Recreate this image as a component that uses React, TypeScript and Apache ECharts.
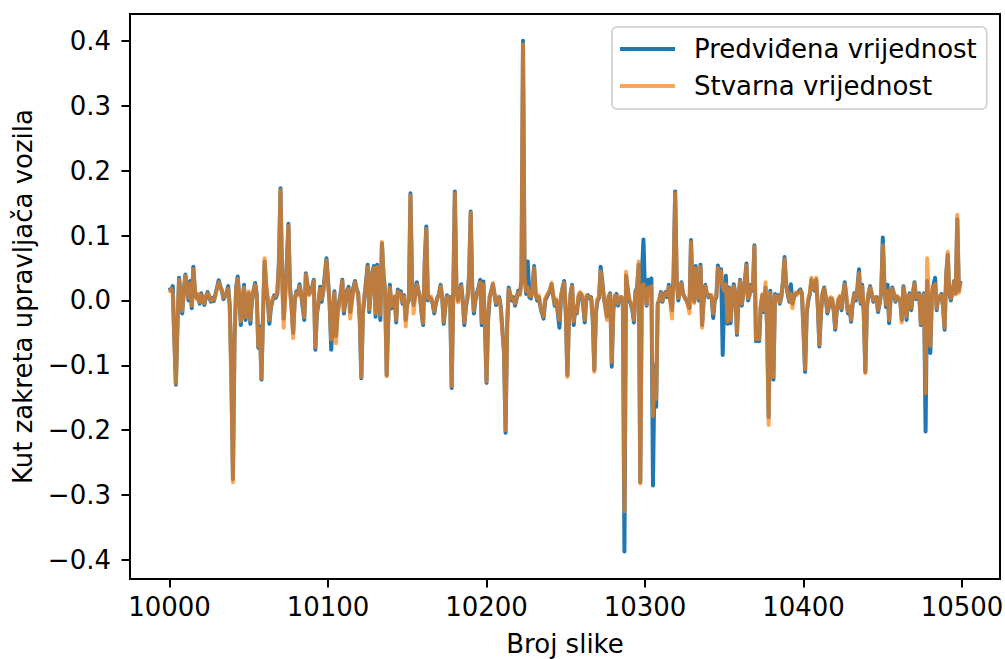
import React, { useEffect, useRef } from 'react';
import * as echarts from 'echarts';

const frameStart = 10000;
const xTicks = [10000, 10100, 10200, 10300, 10400, 10500];
const yTicks = [-0.4, -0.3, -0.2, -0.1, 0, 0.1, 0.2, 0.3, 0.4];
const seriesNames = ['Predviđena vrijednost', 'Stvarna vrijednost'];

// values in thousandths of the steering angle
const predicted = [
  20, 15, 22, -60, -130, -40, 35, 10, -20, 15,
  40, 20, 0, 30, -12, 52, 15, 4, 8, -5,
  11, 2, -7, 5, 13, 6, -2, 4, -1, 10,
  20, 31, 22, 15, 2, 6, 12, 22, -8, -120,
  -275, -60, 20, 37, 5, -38, 0, 24, -30, 5,
  11, -36, 0, 15, 27, 10, -73, -40, -122, -20,
  60, 20, 0, -36, -10, 0, 8, 4, 10, 60,
  173, 40, -28, 10, 60, 118, 20, -10, -50, 0,
  14, 10, 25, 10, -10, -30, 42, 25, 10, 14,
  20, 32, -76, -20, -5, 21, -2, 15, 40, 65,
  30, -5, -76, -30, 14, -55, -20, -2, 12, 32,
  -20, 0, 15, 21, -18, 0, 20, 30, 18, 11,
  -30, -120, -20, 6, 30, 55, -18, 15, 45, 53,
  -25, 55, 20, -30, 88, 40, 14, -115, -30, 24,
  -12, 0, 5, -34, 17, 8, 14, -5, 8, -30,
  -5, 0, 165, 30, -7, 8, 28, 15, 5, -20,
  -38, 60, 114, 0, 5, 3, -5, -20, -5, 4,
  10, 24, 5, -36, -10, 8, 3, 5, -135, 10,
  168, 20, 0, 15, 25, 0, -38, -10, 4, 40,
  137, 20, -20, 0, 12, 20, 32, -38, 29, -40,
  -127, -30, 5, 15, 25, 10, -7, 3, 5, -10,
  -45, -80, -204, -40, 20, 8, 0, 5, -8, 3,
  15, 10, 30, 400, 40, 10, 60, 5, 3, 20,
  53, 10, 0, 5, -10, -20, -28, 0, 5, 10,
  15, 25, 8, -8, 0, -20, -42, 5, 20, 30,
  -20, -115, -30, 10, 24, -38, -10, -20, 5, 11,
  8, -10, -34, 5, 8, 3, 5, -30, -107, -20,
  0, 4, 52, 30, 4, -10, -25, 5, 11, -102,
  -15, 5, 10, -8, 3, 5, 0, -387, 38, 20,
  0, -5, -15, -34, 14, 20, 55, -280, 40, 94,
  10, -8, 32, 20, 34, -285, -100, -164, -5, 0,
  13, -2, 8, 13, 5, 24, 0, -15, 40, 168,
  30, 0, 15, 28, 10, 5, 0, -5, -12, 93,
  10, -2, 53, 10, 0, 55, -38, 0, 24, 10,
  5, 8, 5, -27, 0, 5, 54, 30, 48, -84,
  10, 38, -36, 20, -35, 5, 25, 10, -53, 5,
  32, -8, 10, 30, 57, 0, 10, 24, 15, 85,
  -63, -40, -63, -10, 8, -18, 20, -40, -180, 15,
  -30, -122, 10, 5, 8, -5, 5, 30, 67, 25,
  10, -2, 25, -5, 5, 10, 11, 14, 17, 10,
  -50, -110, -20, 0, 10, 32, 20, 15, 32, -10,
  -71, -20, 11, 20, 5, -20, -10, 3, 2, -15,
  -45, -15, 0, 5, -15, 10, 28, 5, -20, -10,
  -33, -5, 11, 0, 20, 48, -5, 24, -20, -110,
  -10, 10, 22, 10, -2, 3, 5, -18, -5, 11,
  97, 25, -10, 24, -35, 5, 20, 10, -2, 5,
  3, 0, -30, 22, 5, -30, 5, 11, -15, 10,
  28, 2, 5, 11, -38, 0, 11, -202, 30, -20,
  -81, 10, 24, 35, -15, 5, 3, 10, -10, -45,
  40, 70, 10, 0, 15, 30, 11, 125, 15, 30,
];

const actual = [
  12, 18, 10, -55, -128, -35, 32, 14, -16, 12,
  38, 24, 4, 26, -8, 48, 18, 2, 10, -3,
  9, 4, -5, 7, 11, 8, 0, 2, 1, 8,
  18, 28, 20, 17, 4, 8, 10, 18, -12, -125,
  -280, -55, 16, 33, 8, -32, 4, 20, -26, 8,
  14, -30, 4, 12, 24, 6, -70, -44, -120, -15,
  65, 24, 4, -30, -8, 3, 6, 7, 12, 56,
  170, 35, -42, 6, 56, 115, 16, -14, -58, 4,
  12, 8, 22, 12, -6, -26, 40, 22, 8, 12,
  18, 30, -72, -16, -2, 18, 2, 12, 36, 62,
  26, -2, -60, -34, 12, -66, -24, -5, 10, 30,
  -16, 3, 12, 18, -28, -4, 16, 28, 15, 9,
  -26, -118, -16, 8, 27, 52, -14, 12, 42, 50,
  -20, 52, 18, -22, 90, 36, 12, -117, -26, 20,
  -9, 3, 7, -30, 14, 10, 11, -2, 6, -40,
  -8, 3, 162, 26, -20, 6, 24, 12, 8, -16,
  -35, 56, 110, 4, 2, 6, -3, -17, -2, 2,
  8, 22, 7, -33, -8, 6, 5, 2, -132, 6,
  165, 16, -3, 12, 22, -4, -34, -6, 6, 36,
  135, 16, -16, 3, 10, 17, 28, -34, 25, -36,
  -125, -26, 8, 12, 27, 8, -4, 6, 2, -14,
  -48, -76, -200, -36, 17, 10, 3, 2, -5, 6,
  12, 8, 26, 395, 36, 14, 20, 8, 6, 18,
  50, 8, 3, 8, -7, -17, -25, 3, 8, 12,
  17, 27, 11, -6, 2, -16, -30, 8, 18, 27,
  -16, -118, -26, 8, 22, -32, -8, -18, 8, 13,
  10, -6, -30, 8, 6, 5, 3, -26, -110, -16,
  3, 6, 45, 27, 6, -14, -30, 8, 9, -95,
  -12, 8, 7, -5, 6, 3, 4, -325, 44, 17,
  3, -2, -12, -30, 12, 18, 60, -282, 20, 25,
  5, -6, 20, 10, 22, -178, -120, -152, -8, 3,
  11, 0, 6, 11, 8, 21, -4, -28, 36, 165,
  26, 4, 12, 26, 12, 3, 3, -8, -20, 90,
  6, -4, 50, 8, 3, 52, -42, 3, 22, 12,
  7, 6, 8, -20, 3, 7, 50, 28, 45, 20,
  15, 25, -33, 18, -30, 8, 22, 12, -50, 8,
  30, -5, 8, 27, 54, 3, 8, 22, 17, 83,
  -60, -36, -60, -7, 10, -15, 28, -44, -192, 12,
  -26, -118, 8, 7, 6, -3, 8, 27, 64, 22,
  12, 0, 10, -12, 8, 12, 9, 12, 15, 12,
  -46, -106, -16, 3, 12, 35, 18, 17, 35, -6,
  -68, -16, 9, 18, 7, -17, -8, 5, 4, -12,
  -42, -12, 3, 7, -12, 8, 25, 7, -17, -8,
  -30, -2, 9, 3, 18, 42, -3, 21, -17, -112,
  -6, 12, 20, 12, 0, 5, 3, -15, -3, 14,
  85, 22, -6, 15, -30, 8, 18, 12, 0, 7,
  5, 3, -34, 20, 8, -25, 7, 9, -12, 12,
  26, 4, 7, 9, -36, 3, 9, -143, 65, 10,
  -70, 12, 22, 25, -12, 7, 5, 8, -7, -42,
  38, 75, 12, 3, 13, 28, 9, 132, 12, 28,
];

const FONT = "'DejaVu Sans', sans-serif";
const FS = 26;
const BLUE = '#1f77b4';
const ORANGE = 'rgba(255,127,14,0.7)';

function toPairs(vals: number[]) {
  return vals.map((v, i) => [frameStart + i, v / 1000]);
}

function fmtY(v: number) {
  const s = Math.abs(v).toFixed(1);
  return v < -1e-9 ? '\u2212' + s : s;
}

export default function App() {
  const ref = useRef<HTMLDivElement>(null);
  useEffect(() => {
    if (!ref.current) return;
    const chart = echarts.init(ref.current, null, { renderer: 'svg' });
    chart.setOption({
      animation: false,
      backgroundColor: '#fff',
      textStyle: { fontFamily: FONT },
      grid: {
        left: 130,
        right: 5,
        top: 14,
        bottom: 80,
        show: true,
        borderColor: '#000',
        borderWidth: 2,
        backgroundColor: 'transparent',
        containLabel: false,
        outerBoundsMode: 'none',
      },
      legend: {
        orient: 'vertical',
        left: 612,
        top: 27,
        icon: 'rect',
        itemWidth: 55,
        itemHeight: 4,
        itemGap: 11,
        padding: [9, 10, 10, 8],
        borderColor: '#d6d6d6',
        borderWidth: 2,
        borderRadius: 5,
        backgroundColor: '#fff',
        itemStyle: { borderWidth: 0 },
        textStyle: {
          fontSize: FS,
          fontFamily: FONT,
          color: '#000',
          padding: [0, 0, 0, 14],
        },
        data: [
          { name: seriesNames[0], itemStyle: { color: BLUE, borderWidth: 0 } },
          { name: seriesNames[1], itemStyle: { color: ORANGE, borderWidth: 0 } },
        ],
      },
      xAxis: {
        type: 'value',
        min: 9975.05,
        max: 10523.95,
        name: 'Broj slike',
        nameLocation: 'middle',
        nameGap: 52,
        nameTextStyle: { fontSize: FS, color: '#000', fontFamily: FONT },
        axisLine: { show: true, onZero: false, lineStyle: { color: '#000', width: 2 } },
        axisTick: {
          show: true,
          inside: false,
          length: 8.5,
          lineStyle: { color: '#000', width: 2 },
          customValues: xTicks,
        },
        axisLabel: {
          customValues: xTicks,
          fontSize: FS,
          color: '#000',
          fontFamily: FONT,
          margin: 15,
          formatter: (v: number) => String(v),
        },
        splitLine: { show: false },
      },
      yAxis: {
        type: 'value',
        min: -0.4292,
        max: 0.4413,
        name: 'Kut zakreta upravljača vozila',
        nameLocation: 'middle',
        nameGap: 94,
        nameTextStyle: { fontSize: FS, color: '#000', fontFamily: FONT },
        axisLine: { show: true, onZero: false, lineStyle: { color: '#000', width: 2 } },
        axisTick: {
          show: true,
          inside: false,
          length: 8.5,
          lineStyle: { color: '#000', width: 2 },
          customValues: yTicks,
        },
        axisLabel: {
          customValues: yTicks,
          fontSize: FS,
          color: '#000',
          fontFamily: FONT,
          margin: 19,
          formatter: (v: number) => fmtY(v),
        },
        splitLine: { show: false },
      },
      series: [
        {
          name: seriesNames[0],
          type: 'line',
          data: toPairs(predicted),
          symbol: 'none',
          showSymbol: false,
          color: BLUE,
          lineStyle: { color: BLUE, width: 4, join: 'round', cap: 'butt' },
          z: 2,
        },
        {
          name: seriesNames[1],
          type: 'line',
          data: toPairs(actual),
          symbol: 'none',
          showSymbol: false,
          color: '#ff7f0e',
          lineStyle: { color: '#ff7f0e', width: 4, opacity: 0.7, join: 'round', cap: 'butt' },
          z: 3,
        },
      ],
    });
    return () => chart.dispose();
  }, []);
  return (
    <div
      ref={ref}
      style={{ position: 'fixed', left: 0, top: 0, width: 1005, height: 659 }}
    />
  );
}
